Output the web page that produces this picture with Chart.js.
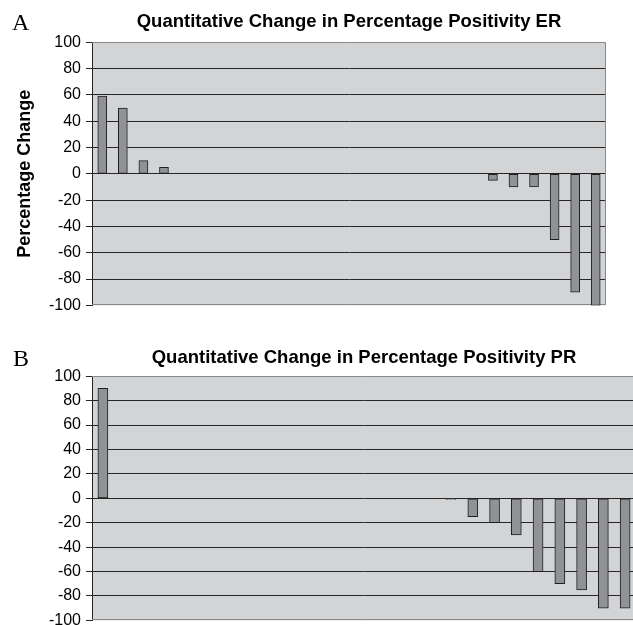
<!DOCTYPE html>
<html>
<head>
<meta charset="utf-8">
<title>Quantitative Change in Percentage Positivity</title>
<script src="https://cdn.jsdelivr.net/npm/chart.js@4/dist/chart.umd.min.js"></script>
<style>
    html, body { margin: 0; padding: 0; background: #fff; overflow: hidden; width: 633px; height: 625px; }
    canvas { position: absolute; left: 0; }
    #er-chart { top: 0; }
    #pr-chart { top: 330px; }
</style>
</head>
<body>
<canvas id="er-chart" width="633" height="320"></canvas>
<canvas id="pr-chart" width="640" height="305"></canvas>
<script>
// Cases (one bar each)
const cases = ['1', '2', '3', '4', '5', '6', '7', '8', '9', '10', '11', '12', '13',
    '14', '15', '16', '17', '18', '19', '20', '21', '22', '23', '24', '25'];

// Panel A - change in ER positivity (%)
const erChange = [59, 50, 10, 5, 0, 0, 0, 0, 0, 0, 0, 0, 0, 0, 0, 0, 0, 0, 0,
    -5, -10, -10, -50, -90, -100];

// Panel B - change in PR positivity (%)
const prChange = [90, 0, 0, 0, 0, 0, 0, 0, 0, 0, 0, 0, 0, 0, 0, 0,
    -1, -15, -20, -30, -60, -70, -75, -90, -90];

// Y axis ticks
const yMin = -100;
const yMax = 100;
const yStep = 20;

const fontFamily = '"Liberation Sans", Arial, sans-serif';

// Grey plot area with a thin grey frame
const plotBackground = {
    id: 'plotBackground',
    beforeDraw(chart) {
        const { ctx, chartArea: a } = chart;
        ctx.save();
        ctx.fillStyle = '#d3d4d6';
        ctx.fillRect(a.left, a.top, a.right - a.left, a.bottom - a.top);
        ctx.restore();
    },
    beforeDatasetsDraw(chart) {
        const { ctx, chartArea: a } = chart;
        ctx.save();
        ctx.strokeStyle = '#888';
        ctx.lineWidth = 1;
        ctx.beginPath();
        ctx.moveTo(a.left, Math.round(a.top) + 0.5);
        ctx.lineTo(Math.round(a.right) - 0.5, Math.round(a.top) + 0.5);
        ctx.lineTo(Math.round(a.right) - 0.5, Math.round(a.bottom) - 0.5);
        ctx.lineTo(a.left, Math.round(a.bottom) - 0.5);
        ctx.stroke();
        ctx.restore();
    }
};

// Panel letter (A / B) in the top-left corner
const panelLetter = {
    id: 'panelLetter',
    afterDraw(chart, args, opts) {
        const ctx = chart.ctx;
        ctx.save();
        ctx.fillStyle = '#000';
        ctx.font = '24px "Liberation Serif", "Times New Roman", serif';
        ctx.textBaseline = 'alphabetic';
        ctx.fillText(opts.text, opts.x, opts.y);
        ctx.restore();
    }
};

function buildChart(canvasId, values, opts) {
    const ctx = document.getElementById(canvasId).getContext('2d');
    return new Chart(ctx, {
        type: 'bar',
        data: {
            labels: cases,
            datasets: [{
                data: values,
                backgroundColor: '#909295',
                borderColor: '#1f1f1f',
                borderWidth: 1,
                borderSkipped: false,
                barThickness: opts.barWidth
            }]
        },
        options: {
            responsive: false,
            animation: false,
            events: [],
            layout: { padding: opts.padding },
            plugins: {
                legend: { display: false },
                tooltip: { enabled: false },
                title: {
                    display: true,
                    text: opts.title,
                    fullSize: false,
                    color: '#000',
                    font: { family: fontFamily, size: 18.5, weight: 'bold' },
                    padding: opts.titlePadding
                },
                panelLetter: opts.letter
            },
            scales: {
                x: { display: false },
                y: {
                    min: yMin,
                    max: yMax,
                    afterFit(scale) { scale.width = 92; },
                    ticks: {
                        stepSize: yStep,
                        color: '#000',
                        padding: 5,
                        font: { family: fontFamily, size: 16 }
                    },
                    grid: {
                        color: c => (c.tick && Math.abs(c.tick.value) === 100 ? 'rgba(0,0,0,0)' : '#262626'),
                        tickColor: '#262626',
                        tickLength: 6
                    },
                    border: { color: '#262626' },
                    title: {
                        display: !!opts.yTitle,
                        text: opts.yTitle || '',
                        color: '#000',
                        font: { family: fontFamily, size: 18, weight: 'bold' },
                        padding: { top: 14, bottom: 0 }
                    }
                }
            }
        },
        plugins: [plotBackground, panelLetter]
    });
}

buildChart('er-chart', erChange, {
    title: 'Quantitative Change in Percentage Positivity ER',
    yTitle: 'Percentage Change',
    barWidth: 9,
    padding: { left: 0, right: 27, top: 0, bottom: 6 },
    titlePadding: { top: 11, bottom: 9 },
    letter: { text: 'A', x: 12, y: 30 }
});

buildChart('pr-chart', prChange, {
    title: 'Quantitative Change in Percentage Positivity PR',
    yTitle: null,
    barWidth: 10,
    padding: { left: 0, right: 4, top: 0, bottom: 5 },
    titlePadding: { top: 17, bottom: 7 },
    letter: { text: 'B', x: 13, y: 36 }
});
</script>
</body>
</html>
